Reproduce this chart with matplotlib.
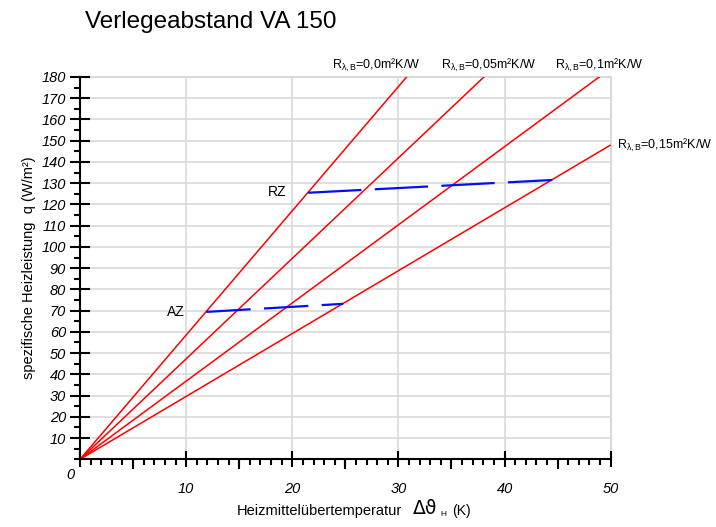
import numpy as np
import matplotlib
matplotlib.use('Agg')
import matplotlib.pyplot as plt
from matplotlib.ticker import MultipleLocator, FixedLocator, NullFormatter

plt.rcParams['font.family'] = ['Liberation Sans', 'DejaVu Sans']
plt.rcParams['mathtext.fontset'] = 'custom'
plt.rcParams['mathtext.rm'] = 'Liberation Sans'
plt.rcParams['mathtext.it'] = 'Liberation Sans:italic'

# Heizkennlinien: q = slope * dT, je Waermeleitwiderstand R
r_labels = ['0,0', '0,05', '0,1', '0,15']
slopes = [5.85, 4.73, 3.68, 2.96]
dt_range = [0, 50]

# Grenzkurven (Aufenthaltszone / Randzone)
az_dt = [11.9, 24.8]
az_q = [69.4, 73.2]
rz_dt = [21.5, 44.5]
rz_q = [125.5, 131.5]

# label positions (data coords)
lab_x = [27.9, 38.5, 48.9, 50.6]
lab_y = [185.6, 185.6, 185.6, 147.6]

fig = plt.figure(figsize=(7.16, 5.27), dpi=100)
ax = fig.add_axes([80/716, 1-459.3/527, 530.7/716, 382.3/527])

ax.set_xlim(0, 50)
ax.set_ylim(0, 180)

ax.grid(True, color='#d9d9d9', lw=1.2)
ax.set_axisbelow(True)
for s in ['top', 'right']:
    ax.spines[s].set_visible(False)
ax.spines['left'].set_linewidth(1.5)
ax.spines['bottom'].set_linewidth(1.5)
# close the box with grey lines
ax.axhline(180, color='#d9d9d9', lw=1.5, clip_on=False, zorder=0)
ax.axvline(50, color='#d9d9d9', lw=1.5, clip_on=False, zorder=0)

x = np.array(dt_range, dtype=float)
for s in slopes:
    ax.plot(x, s * x, color='red', lw=1.1, solid_capstyle='butt')

ax.plot(az_dt, az_q, color='#0010ee', lw=1.6, dashes=(20, 6))
ax.plot(rz_dt, rz_q, color='#0010ee', lw=1.6, dashes=(24, 6))
ax.text(9.9, 69.5, 'AZ', ha='right', va='center', fontsize=10)
ax.text(19.4, 126, 'RZ', ha='right', va='center', fontsize=10)

for i, r in enumerate(r_labels):
    ha = 'left' if i == 3 else 'center'
    ax.text(lab_x[i], lab_y[i], r'R$_{\mathregular{\lambda,B}}$=' + r + 'm²K/W',
            ha=ha, va='center', fontsize=9, clip_on=False)

ax.xaxis.set_minor_locator(MultipleLocator(1))
ax.yaxis.set_minor_locator(MultipleLocator(5))
ax.tick_params(axis='x', which='major', direction='inout', length=12, width=1.5, pad=10)
ax.tick_params(axis='y', which='major', direction='inout', length=14, width=1.5, pad=3)
ax.tick_params(which='minor', direction='out', length=4, width=1.5)

xt = [10, 20, 30, 40, 50]
ax.set_xticks([0] + xt)
ax.set_xticklabels([''] + [str(v) for v in xt], fontstyle='italic', fontsize=10.5)
yt = list(range(10, 190, 10))
ax.set_yticks(yt)
ax.set_yticklabels([str(v) for v in yt], fontstyle='italic', fontsize=10.5)
ax.text(-0.5, -4, '0', ha='right', va='top', fontstyle='italic', fontsize=10.5)

# longer ticks at every 5 K
ax5 = ax.twiny()
ax5.set_xlim(0, 50)
ax5.xaxis.set_ticks_position('bottom')
ax5.xaxis.set_major_locator(FixedLocator([5, 15, 25, 35, 45]))
ax5.xaxis.set_major_formatter(NullFormatter())
ax5.tick_params(axis='x', direction='out', length=7, width=1.5)
for s in ax5.spines.values():
    s.set_visible(False)

ax.set_ylabel('spezifische Heizleistung  q (W/m²)', fontsize=10.5, labelpad=4)

fig.text(237/716, 1-511/527, 'Heizmittelübertemperatur', fontsize=10.5, ha='left', va='center')
fig.text(413/716, 1-509/527, 'Δϑ', fontsize=13.5, ha='left', va='center',
         family='DejaVu Sans')
fig.text(440/716, 1-514/527, 'H', fontsize=6, ha='left', va='center')
fig.text(452/716, 1-511/527, '(K)', fontsize=10, ha='left', va='center')

fig.text(85/716, 1-22/527, 'Verlegeabstand VA 150', fontsize=17.5, ha='left', va='center')

fig.savefig('out.png', dpi=100)
